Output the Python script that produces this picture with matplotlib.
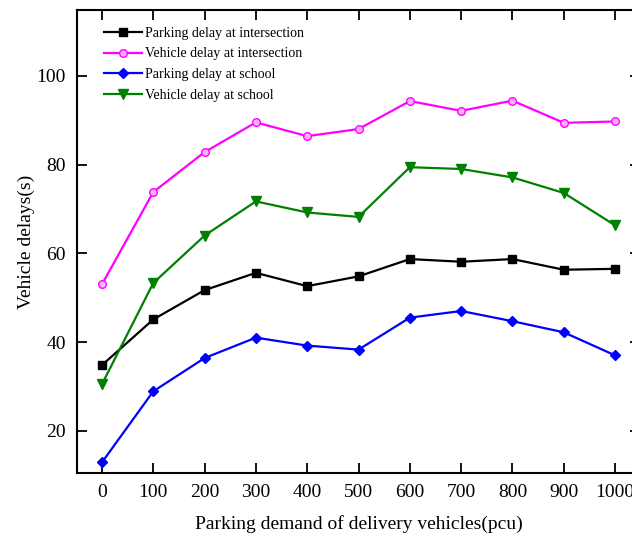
import matplotlib
matplotlib.use('Agg')
import matplotlib.pyplot as plt

plt.rcParams['font.family'] = ['Liberation Serif', 'DejaVu Serif']

# parking demand (pcu)
demand = [0, 100, 200, 300, 400, 500, 600, 700, 800, 900, 1000]

# delays in seconds
parking_intersection = [34.8, 45.1, 51.7, 55.6, 52.6, 54.8, 58.7, 58.1, 58.7, 56.3, 56.5]
vehicle_intersection = [53.0, 73.8, 82.8, 89.5, 86.4, 88.0, 94.3, 92.1, 94.4, 89.4, 89.7]
parking_school = [12.9, 28.9, 36.4, 41.0, 39.2, 38.3, 45.5, 47.0, 44.7, 42.2, 37.0]
vehicle_school = [30.5, 53.3, 64.0, 71.7, 69.2, 68.2, 79.4, 79.0, 77.1, 73.6, 66.3]

fig = plt.figure(figsize=(6.32, 5.37), dpi=100)
# axes runs a little past the right edge of the figure
ax = fig.add_axes([0.1218, 0.1192, 0.891, 0.862])

ax.plot(demand, parking_intersection, color='black', marker='s', ms=5.5,
        lw=1.6, label='Parking delay at intersection')
ax.plot(demand, vehicle_intersection, color='#ff00ff', marker='o', ms=5.5,
        mfc='#ffb0ff', lw=1.6, label='Vehicle delay at intersection')
ax.plot(demand, parking_school, color='#0000ff', marker='D', ms=5,
        lw=1.6, label='Parking delay at school')
ax.plot(demand, vehicle_school, color='#008000', marker='v', ms=6.5,
        lw=1.6, label='Vehicle delay at school')

ax.set_xlim(-48.7, 1048.7)
ax.set_ylim(10.5, 114.8)
ax.set_xticks(demand)
ax.set_yticks([20, 40, 60, 80, 100])

for s in ax.spines.values():
    s.set_linewidth(1.5)
ax.tick_params(direction='in', length=7, width=1.3, top=True, right=True,
               labelsize=14, pad=8)

ax.set_xlabel('Parking demand of delivery vehicles(pcu)', fontsize=14, labelpad=10)
ax.set_ylabel('Vehicle delays(s)', fontsize=14, labelpad=1)

ax.legend(loc='upper left', frameon=False, fontsize=10, handlelength=2.8,
          handletextpad=0.2, labelspacing=0.55, borderaxespad=0.3,
          bbox_to_anchor=(0.03, 0.985))

fig.savefig('out.png', dpi=100)
